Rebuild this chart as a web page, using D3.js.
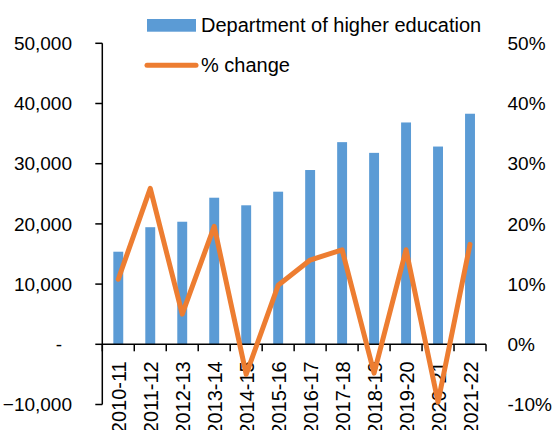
<!DOCTYPE html>
<html>
<head>
<meta charset="utf-8">
<script src="https://cdn.jsdelivr.net/npm/d3@7"></script>
<style>
  body { margin: 0; background: #fff; }
  svg text { font-family: "Liberation Sans", Arial, sans-serif; fill: #000; }
</style>
</head>
<body>
<div id="chart"></div>
<script>
const width = 553;
const height = 430;

const years = ["2010-11", "2011-12", "2012-13", "2013-14", "2014-15", "2015-16",
    "2016-17", "2017-18", "2018-19", "2019-20", "2020-21", "2021-22"];
const budget = [15380, 19450, 20360, 24350, 23090, 25350, 28950, 33580, 31800, 36850, 32850, 38300];
const pctChange = [10.8, 25.9, 5.0, 19.6, -5.0, 9.8, 14.0, 15.7, -4.8, 15.7, -9.6, 16.6];
const leftTicks = [-10000, 0, 10000, 20000, 30000, 40000, 50000];
const rightTicks = [-10, 0, 10, 20, 30, 40, 50];

const margin = { left: 102.3, right: 67, top: 43.3, bottom: 404.5 };

const svg = d3.select("#chart")
    .append("svg")
    .attr("width", width)
    .attr("height", height);

// bar positions
const x = d3.scaleBand()
    .domain(years)
    .range([margin.left, width - margin.right])
    .paddingInner(0.69)
    .paddingOuter(0.345);

// category slots (for axis ticks / labels)
const xBound = d3.scaleBand()
    .domain(years)
    .range([margin.left, width - margin.right]);

const yL = d3.scaleLinear().domain([-10000, 50000]).range([margin.bottom, margin.top]);
const yR = d3.scaleLinear().domain([-10, 50]).range([margin.bottom, margin.top]);

// bars
svg.append("g")
    .selectAll("rect")
    .data(years)
    .enter().append("rect")
    .attr("x", d => x(d))
    .attr("width", x.bandwidth())
    .attr("y", (d, i) => yL(budget[i]))
    .attr("height", (d, i) => yL(0) - yL(budget[i]))
    .attr("fill", "#5B9BD5");

// left axis
const fmt = d3.format(",");
const gL = svg.append("g");
gL.append("line")
    .attr("x1", margin.left).attr("x2", margin.left)
    .attr("y1", yL(50000)).attr("y2", yL(-10000))
    .attr("stroke", "#000").attr("stroke-width", 1.5);
gL.selectAll("line.tick")
    .data(leftTicks)
    .enter().append("line")
    .attr("class", "tick")
    .attr("x1", margin.left - 7).attr("x2", margin.left)
    .attr("y1", d => yL(d)).attr("y2", d => yL(d))
    .attr("stroke", "#000").attr("stroke-width", 1.5);
gL.selectAll("text")
    .data(leftTicks)
    .enter().append("text")
    .attr("x", d => d === 0 ? 62 : 72)
    .attr("y", d => yL(d))
    .attr("dy", "0.35em")
    .attr("text-anchor", "end")
    .attr("font-size", 19)
    .text(d => d === 0 ? "-" : fmt(d));

// right axis labels
svg.append("g")
    .selectAll("text")
    .data(rightTicks)
    .enter().append("text")
    .attr("x", 507.5)
    .attr("y", d => yR(d))
    .attr("dy", "0.35em")
    .attr("font-size", 19)
    .text(d => d + "%");

// x axis
const gX = svg.append("g");
gX.append("line")
    .attr("x1", margin.left).attr("x2", width - margin.right)
    .attr("y1", yL(0)).attr("y2", yL(0))
    .attr("stroke", "#000").attr("stroke-width", 1.5);
gX.selectAll("line.tick")
    .data(years.concat(["end"]))
    .enter().append("line")
    .attr("class", "tick")
    .attr("x1", (d, i) => margin.left + i * xBound.bandwidth())
    .attr("x2", (d, i) => margin.left + i * xBound.bandwidth())
    .attr("y1", yL(0)).attr("y2", yL(0) + 7)
    .attr("stroke", "#000").attr("stroke-width", 1.5);
gX.selectAll("text")
    .data(years)
    .enter().append("text")
    .attr("transform", d => `translate(${xBound(d) + xBound.bandwidth() / 2 + 8},${yL(0) + 17}) rotate(-90)`)
    .attr("text-anchor", "end")
    .attr("font-size", 20)
    .text(d => d);

// % change line
const line = d3.line()
    .x((d, i) => x(years[i]) + x.bandwidth() / 2)
    .y(d => yR(d));

svg.append("path")
    .datum(pctChange)
    .attr("d", line)
    .attr("fill", "none")
    .attr("stroke", "#ED7D31")
    .attr("stroke-width", 5)
    .attr("stroke-linejoin", "round")
    .attr("stroke-linecap", "round");

// legend
const legend = svg.append("g");
legend.append("rect")
    .attr("x", 147).attr("y", 19)
    .attr("width", 49).attr("height", 12.7)
    .attr("fill", "#5B9BD5");
legend.append("text")
    .attr("x", 201).attr("y", 32.3)
    .attr("font-size", 20)
    .text("Department of higher education");
legend.append("line")
    .attr("x1", 147).attr("x2", 196)
    .attr("y1", 65.3).attr("y2", 65.3)
    .attr("stroke", "#ED7D31")
    .attr("stroke-width", 5)
    .attr("stroke-linecap", "round");
legend.append("text")
    .attr("x", 201).attr("y", 72.3)
    .attr("font-size", 20)
    .text("% change");
</script>
</body>
</html>
